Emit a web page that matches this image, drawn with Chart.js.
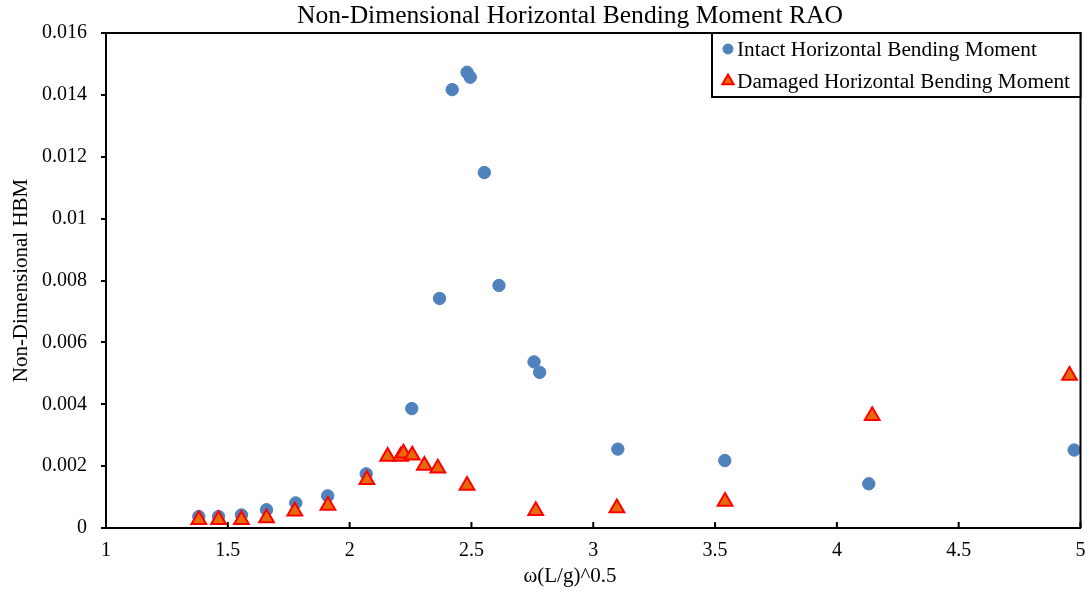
<!DOCTYPE html>
<html>
<head>
<meta charset="utf-8">
<script src="https://cdn.jsdelivr.net/npm/chart.js@4.4.0/dist/chart.umd.min.js"></script>
<style>
html, body { margin: 0; padding: 0; background: #fff; }
</style>
</head>
<body>
<canvas id="Graf1" width="1091" height="592"></canvas>
<script>
// omega*(L/g)^0.5 and non-dimensional HBM, intact hull
const intactX = [1.381, 1.462, 1.556, 1.659, 1.779, 1.910, 2.068, 2.255, 2.369, 2.421,
                 2.482, 2.495, 2.553, 2.613, 2.757, 2.780, 3.101, 3.540, 4.131, 4.974];
const intactY = [0.00037, 0.00037, 0.00042, 0.00059, 0.00081, 0.00104, 0.00175, 0.00386, 0.00742, 0.01417,
                 0.01473, 0.01457, 0.01149, 0.00784, 0.00537, 0.00503, 0.00255, 0.00218, 0.00143, 0.00252];
// damaged hull
const damagedX = [1.381, 1.462, 1.556, 1.659, 1.775, 1.911, 2.071, 2.156, 2.209, 2.221,
                  2.257, 2.307, 2.362, 2.482, 2.764, 3.097, 3.541, 4.145, 4.955];
const damagedY = [0.00027, 0.00027, 0.00027, 0.00032, 0.00054, 0.00073, 0.00156, 0.00231, 0.00231, 0.00242,
                  0.00235, 0.00202, 0.00193, 0.00137, 0.00056, 0.00065, 0.00086, 0.00363, 0.00493];

const xTicks = [1, 1.5, 2, 2.5, 3, 3.5, 4, 4.5, 5];
const xTickLabels = ['1', '1.5', '2', '2.5', '3', '3.5', '4', '4.5', '5'];
const yTicks = [0, 0.002, 0.004, 0.006, 0.008, 0.01, 0.012, 0.014, 0.016];
const yTickLabels = ['0', '0.002', '0.004', '0.006', '0.008', '0.01', '0.012', '0.014', '0.016'];

const titulo = 'Non-Dimensional Horizontal Bending Moment RAO';
const tituloX = 'ω(L/g)^0.5';
const tituloY = 'Non-Dimensional HBM';
const FUENTE = '"Liberation Serif", "Times New Roman", serif';

const canva1 = document.getElementById('Graf1').getContext('2d');

function pares(xs, ys) {
    return xs.map((x, i) => ({ x: x, y: ys[i] }));
}

// title, plot frame, inward x ticks and boxed legend
const marco = {
    id: 'marco',
    afterDraw(chart) {
        const ctx = chart.ctx;
        const a = chart.chartArea;
        const sx = chart.scales.x;
        ctx.save();
        ctx.strokeStyle = '#000';
        ctx.lineWidth = 2;
        ctx.beginPath();
        ctx.moveTo(a.left, a.top);
        ctx.lineTo(a.right, a.top);
        ctx.lineTo(a.right, a.bottom);
        ctx.stroke();
        xTicks.forEach(v => {
            const px = sx.getPixelForValue(v);
            ctx.beginPath();
            ctx.moveTo(px, a.bottom);
            ctx.lineTo(px, a.bottom - 6);
            ctx.stroke();
        });

        ctx.fillStyle = '#000';
        ctx.textAlign = 'center';
        ctx.textBaseline = 'middle';
        ctx.font = '25.6px ' + FUENTE;
        ctx.fillText(titulo, 570, 16);
        ctx.font = '21px ' + FUENTE;
        ctx.fillText(tituloX, 570, 576);

        // legend
        const lx = 712, ly = a.top, lw = a.right - 712, lh = 64;
        ctx.fillStyle = '#fff';
        ctx.fillRect(lx, ly, lw, lh);
        ctx.strokeRect(lx, ly, lw, lh);
        ctx.font = '21.3px ' + FUENTE;
        ctx.textAlign = 'left';
        ctx.fillStyle = '#000';
        chart.data.datasets.slice().reverse().forEach((ds, i) => {
            const cy = ly + 16 + i * 32;
            ctx.save();
            ctx.fillStyle = ds.backgroundColor;
            ctx.strokeStyle = ds.borderColor;
            ctx.lineWidth = ds.borderWidth;
            Chart.helpers.drawPoint(ctx, {
                pointStyle: ds.pointStyle,
                radius: ds.pointStyle === 'triangle' ? 6.5 : 5,
                rotation: 0,
                borderWidth: ds.borderWidth
            }, 728, cy);
            ctx.restore();
            ctx.fillText(ds.label, 737, cy + 1);
        });
        ctx.restore();
    }
};

new Chart(canva1, {
    type: 'scatter',
    data: {
        datasets: [
            {
                label: 'Damaged Horizontal Bending Moment',
                data: pares(damagedX, damagedY),
                pointStyle: 'triangle',
                backgroundColor: '#E46C0A',
                borderColor: '#FF0000',
                borderWidth: 2,
                pointRadius: 8.5,
                pointHoverRadius: 8.5,
                order: 0,
                clip: false
            },
            {
                label: 'Intact Horizontal Bending Moment',
                data: pares(intactX, intactY),
                pointStyle: 'circle',
                backgroundColor: '#4F81BD',
                borderColor: '#4F81BD',
                borderWidth: 1,
                pointRadius: 6.2,
                pointHoverRadius: 6.2,
                order: 1,
                clip: false
            },
        ],
    },
    options: {
        responsive: false,
        animation: false,
        devicePixelRatio: 1,
        layout: {
            padding: { top: 33, right: 9, bottom: 0, left: 0 }
        },
        plugins: {
            legend: { display: false },
            title: { display: false },
            tooltip: { enabled: false }
        },
        scales: {
            x: {
                type: 'linear',
                min: 1,
                max: 5,
                afterBuildTicks: s => { s.ticks = xTicks.map(v => ({ value: v })); },
                afterFit: s => { s.height = 64; s.paddingLeft = 0; s.paddingRight = 0; },
                ticks: {
                    color: '#000',
                    font: { family: FUENTE, size: 20 },
                    padding: 11,
                    maxRotation: 0,
                    autoSkip: false,
                    callback: (v, i) => xTickLabels[i]
                },
                grid: { display: true, drawOnChartArea: false, drawTicks: false },
                border: { color: '#000', width: 2 }
            },
            y: {
                type: 'linear',
                min: 0,
                max: 0.016,
                afterBuildTicks: s => { s.ticks = yTicks.map(v => ({ value: v })); },
                afterFit: s => { s.width = 106; s.paddingTop = 0; s.paddingBottom = 0; },
                ticks: {
                    color: '#000',
                    font: { family: FUENTE, size: 20 },
                    padding: 14,
                    autoSkip: false,
                    callback: (v, i) => yTickLabels[i]
                },
                grid: { display: true, drawOnChartArea: false, drawTicks: true, tickLength: 5, color: '#000', lineWidth: 2 },
                border: { color: '#000', width: 2 },
                title: {
                    display: true,
                    text: tituloY,
                    color: '#000',
                    font: { family: FUENTE, size: 21 },
                    padding: { top: 9, bottom: 0 }
                }
            },
        }
    },
    plugins: [marco]
});
</script>
</body>
</html>
